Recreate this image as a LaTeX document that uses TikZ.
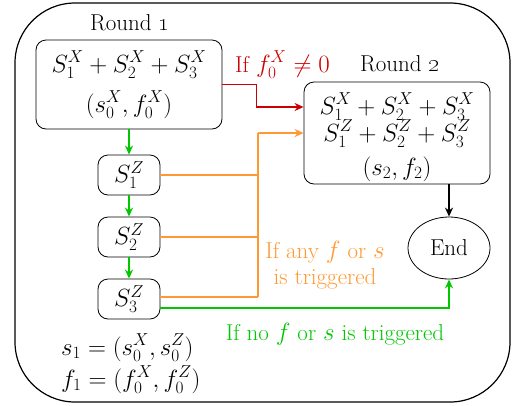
\documentclass[tikz,border=0pt]{standalone}
\usetikzlibrary{arrows.meta,shapes.geometric}
\definecolor{cred}{RGB}{204,0,0}
\definecolor{corg}{RGB}{255,153,51}
\definecolor{cgrn}{RGB}{0,200,0}
\newcommand\mathsz{\fontsize{25}{28}\selectfont}
\begin{document}
\begin{tikzpicture}[x=1pt,y=-1pt,
  font=\fontsize{23}{27}\selectfont,
  box/.style={draw, rounded corners=10pt, line width=0.8pt, align=center, inner sep=0pt},
  lbl/.style={inner sep=0pt, align=center, anchor=base},
  mth/.style={lbl, font=\mathsz},
  tip/.style={-{Stealth[length=9pt,width=8pt]}},
  cline/.style={line width=1.6pt}]
\useasboundingbox (0,0) rectangle (521,405);
\draw[line width=1.2pt, rounded corners=60pt] (15,3) rectangle (510,402);

\node[lbl] (t1) at (130,30) {Round \oldstylenums{1}};
\node[lbl] (t2) at (400,71) {Round \oldstylenums{2}};

\node[box, minimum width=186pt, minimum height=89pt] (r1) at (129,84.5) {};
\node[mth] (r1a) at (129,72) {$S_1^X+S_2^X+S_3^X$};
\node[mth] (r1b) at (129,112) {$(s_0^X,f_0^X)$};

\node[box, font=\mathsz, minimum width=62pt, minimum height=40pt] (s1) at (129,175) {$S_1^Z$};
\node[box, font=\mathsz, minimum width=62pt, minimum height=40pt] (s2) at (129,237) {$S_2^Z$};
\node[box, font=\mathsz, minimum width=62pt, minimum height=40pt] (s3) at (129,299) {$S_3^Z$};

\node[box, minimum width=186pt, minimum height=102pt] (r2) at (397,133) {};
\node[mth] (r2a) at (397,114) {$S_1^X+S_2^X+S_3^X$};
\node[mth] (r2b) at (397,141) {$S_1^Z+S_2^Z+S_3^Z$};
\node[mth] (r2c) at (397,175) {$(s_2,f_2)$};

\node[draw, ellipse, line width=0.8pt, minimum width=82pt, minimum height=62pt, inner sep=0pt] (end) at (449,248) {End};

\node[mth, anchor=base west] (ls) at (61,355) {$s_1=(s_0^X,s_0^Z)$};
\node[mth, anchor=base west] (lf) at (61,387) {$f_1=(f_0^X,f_0^Z)$};

\node[lbl, text=cred, anchor=base west] (lr) at (235,72) {If $f_0^X\neq 0$};
\node[lbl, text=corg] (lo1) at (325,258) {If any $f$ or $s$};
\node[lbl, text=corg] (lo2) at (325,284) {is triggered};
\node[lbl, text=cgrn] (lg) at (335,340) {If no $f$ or $s$ is triggered};

% green chain
\draw[cline, cgrn, tip] (r1.south) -- (s1.north);
\draw[cline, cgrn, tip] (s1.south) -- (s2.north);
\draw[cline, cgrn, tip] (s2.south) -- (s3.north);

% red
\draw[cline, cred, tip] (r1.east) -- ++(34,0) |- ([yshift=26pt]r2.west);

% orange
\coordinate (ot) at (258,133);
\coordinate (ob) at (258,297);
\draw[cline, corg] (ob) -- (ot);
\draw[cline, corg, tip] (ot) -- (r2.west);
\draw[cline, corg] (s1.east) -- (s1.east -| ot);
\draw[cline, corg] (s2.east) -- (s2.east -| ot);
\draw[cline, corg] ([yshift=2pt]s3.east) -- (ob);

% green to end
\draw[cline, cgrn, tip] ([yshift=-9pt]s3.east) -| (end.south);

% black
\draw[cline, black, tip] (r2.south -| end.north) -- (end.north);
\end{tikzpicture}
\end{document}
